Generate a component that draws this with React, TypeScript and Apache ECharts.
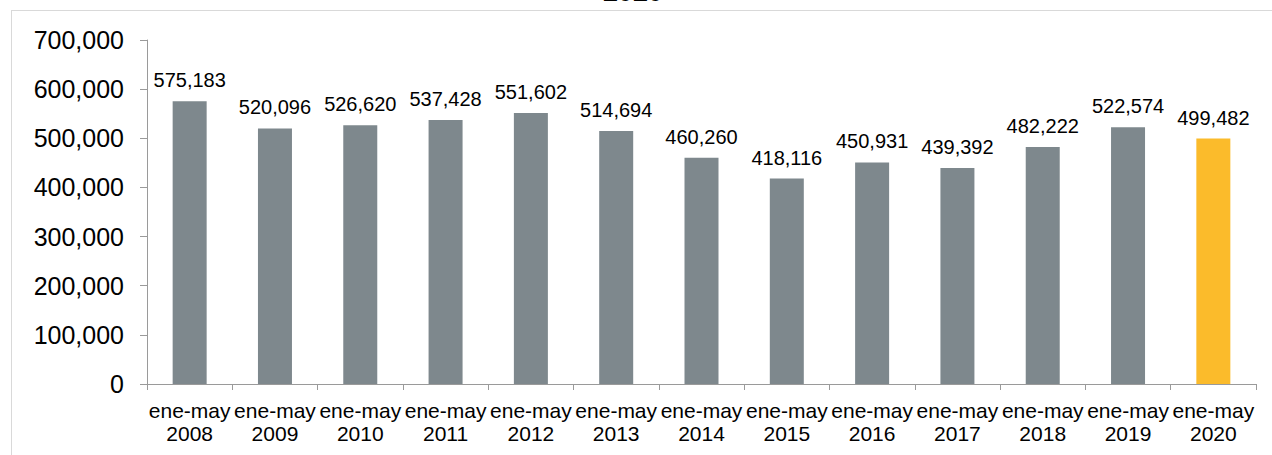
import React, { useEffect, useRef } from "react";
import * as echarts from "echarts";

const categories = [
  "ene-may\n2008", "ene-may\n2009", "ene-may\n2010", "ene-may\n2011", "ene-may\n2012",
  "ene-may\n2013", "ene-may\n2014", "ene-may\n2015", "ene-may\n2016", "ene-may\n2017",
  "ene-may\n2018", "ene-may\n2019", "ene-may\n2020",
];
const values = [575183, 520096, 526620, 537428, 551602, 514694, 460260, 418116, 450931, 439392, 482222, 522574, 499482];
const highlightIndex = 12;
const titleText = "2020";

const GRAY = "#7E888D";
const ORANGE = "#FBBB2B";
const FONT = "'Liberation Sans', Arial, sans-serif";
const fmt = (v: number) => Math.round(v).toLocaleString("en-US");

export default function App() {
  const ref = useRef<HTMLDivElement>(null);
  useEffect(() => {
    document.body.style.margin = "0";
    const chart = echarts.init(ref.current!, null, { renderer: "svg" });
    chart.setOption({
      animation: false,
      backgroundColor: "#ffffff",
      textStyle: { fontFamily: FONT },
      graphic: [
        { type: "line", shape: { x1: 11, y1: 10.5, x2: 1272, y2: 10.5 }, style: { stroke: "#d9d9d9", lineWidth: 1 }, silent: true },
        { type: "line", shape: { x1: 11.5, y1: 10, x2: 11.5, y2: 455 }, style: { stroke: "#d9d9d9", lineWidth: 1 }, silent: true },
        {
          type: "text",
          x: 633,
          y: 5,
          style: { text: titleText, fontSize: 27, fontWeight: "bold", fontFamily: FONT, fill: "#000", align: "center", verticalAlign: "bottom" },
          silent: true,
        },
      ],
      grid: { left: 147, right: 16, top: 40, bottom: 71, containLabel: false },
      xAxis: {
        type: "category",
        data: categories,
        axisLine: { show: true, lineStyle: { color: "#9a9a9a", width: 1 } },
        axisTick: { show: true, alignWithLabel: false, length: 6, lineStyle: { color: "#9a9a9a" } },
        axisLabel: {
          interval: 0,
          hideOverlap: false,
          color: "#000",
          fontSize: 21,
          lineHeight: 23,
          margin: 15,
          fontFamily: FONT,
        },
      },
      yAxis: {
        type: "value",
        min: 0,
        max: 700000,
        interval: 100000,
        axisLine: { show: true, lineStyle: { color: "#9a9a9a", width: 1 } },
        axisTick: { show: true, length: 7, lineStyle: { color: "#9a9a9a" } },
        splitLine: { show: false },
        axisLabel: {
          color: "#000",
          fontSize: 25,
          margin: 23,
          fontFamily: FONT,
          formatter: (v: number) => fmt(v),
        },
      },
      series: [
        {
          type: "bar",
          barWidth: 34,
          data: values.map((v, i) => ({ value: v, itemStyle: { color: i === highlightIndex ? ORANGE : GRAY } })),
          label: {
            show: true,
            position: "top",
            distance: 11,
            color: "#000",
            fontSize: 20,
            fontFamily: FONT,
            formatter: (p: any) => fmt(p.value),
          },
        },
      ],
    });
    return () => chart.dispose();
  }, []);
  return <div ref={ref} style={{ position: "fixed", left: 0, top: 0, width: 1272, height: 455 }} />;
}
